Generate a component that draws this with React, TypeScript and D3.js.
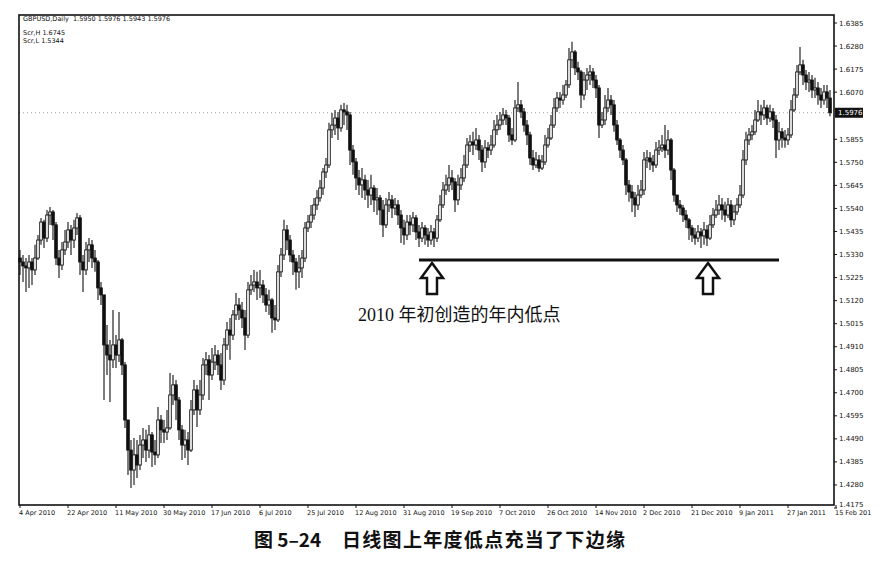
import * as d3 from "d3";

// GBPUSD daily, Apr 2010 – Feb 2011.
const firstOpen = 1.5314;

const closes = [
  1.5296, 1.5278, 1.5269, 1.5296, 1.5260, 1.5314, 1.5396, 1.5478, 1.5405, 1.5510,
  1.5524, 1.5465, 1.5314, 1.5282, 1.5351, 1.5387, 1.5442, 1.5396, 1.5451, 1.5497,
  1.5296, 1.5260, 1.5351, 1.5374, 1.5314, 1.5296, 1.5178, 1.5146, 1.4918, 1.4872,
  1.4850, 1.4918, 1.4872, 1.4941, 1.4827, 1.4576, 1.4439, 1.4348, 1.4417, 1.4371,
  1.4462, 1.4485, 1.4439, 1.4508, 1.4430, 1.4417, 1.4576, 1.4531, 1.4521, 1.4540,
  1.4690, 1.4736, 1.4667, 1.4531, 1.4462, 1.4485, 1.4439, 1.4622, 1.4713, 1.4622,
  1.4690, 1.4827, 1.4850, 1.4781, 1.4840, 1.4872, 1.4827, 1.4758, 1.4918, 1.4986,
  1.4963, 1.5055, 1.5100, 1.5077, 1.5041, 1.4963, 1.5169, 1.5191, 1.5205, 1.5178,
  1.5191, 1.5146, 1.5100, 1.5123, 1.5041, 1.5032, 1.5251, 1.5328, 1.5442, 1.5396,
  1.5328, 1.5296, 1.5251, 1.5269, 1.5314, 1.5451, 1.5478, 1.5510, 1.5556, 1.5588,
  1.5633, 1.5706, 1.5738, 1.5898, 1.5920, 1.5952, 1.5907, 1.5989, 1.5980, 1.5966,
  1.5806, 1.5752, 1.5679, 1.5647, 1.5670, 1.5624, 1.5601, 1.5633, 1.5579, 1.5588,
  1.5533, 1.5465, 1.5556, 1.5579, 1.5542, 1.5556, 1.5510, 1.5451, 1.5419, 1.5478,
  1.5465, 1.5497, 1.5433, 1.5405, 1.5451, 1.5419, 1.5396, 1.5433, 1.5405, 1.5488,
  1.5556, 1.5624, 1.5647, 1.5679, 1.5661, 1.5579, 1.5647, 1.5679, 1.5738, 1.5829,
  1.5843, 1.5829, 1.5852, 1.5806, 1.5752, 1.5816, 1.5806, 1.5829, 1.5898, 1.5920,
  1.5943, 1.5966, 1.5952, 1.5875, 1.5852, 1.5998, 1.6012, 1.5980, 1.5920, 1.5875,
  1.5770, 1.5738, 1.5761, 1.5724, 1.5752, 1.5829, 1.5861, 1.5920, 1.5998, 1.6043,
  1.6034, 1.6057, 1.6103, 1.6217, 1.6253, 1.6180, 1.6162, 1.6057, 1.6125, 1.6148,
  1.6162, 1.6125, 1.6089, 1.5920, 1.5943, 1.5998, 1.6034, 1.6012, 1.5920, 1.5852,
  1.5806, 1.5761, 1.5647, 1.5615, 1.5588, 1.5556, 1.5601, 1.5624, 1.5761, 1.5770,
  1.5752, 1.5738, 1.5806, 1.5816, 1.5829, 1.5806, 1.5852, 1.5715, 1.5601, 1.5556,
  1.5542, 1.5510, 1.5488, 1.5451, 1.5419, 1.5405, 1.5433, 1.5415, 1.5442, 1.5405,
  1.5465, 1.5510, 1.5533, 1.5556, 1.5533, 1.5510, 1.5556, 1.5488, 1.5524, 1.5556,
  1.5601, 1.5761, 1.5852, 1.5875, 1.5889, 1.5943, 1.5980, 1.5966, 1.5998, 1.5952,
  1.5980, 1.5943, 1.5852, 1.5889, 1.5861, 1.5852, 1.5875, 1.5989, 1.6057, 1.6162,
  1.6194, 1.6148, 1.6116, 1.6125, 1.6080, 1.6089, 1.6057, 1.6034, 1.6071, 1.6043,
  1.5976,
];

const highs = [
  1.5351, 1.5328, 1.5314, 1.5328, 1.5314, 1.5374, 1.5419, 1.5497, 1.5488, 1.5533,
  1.5547, 1.5533, 1.5478, 1.5351, 1.5387, 1.5442, 1.5478, 1.5465, 1.5488, 1.5519,
  1.5510, 1.5328, 1.5387, 1.5405, 1.5396, 1.5351, 1.5305, 1.5205, 1.5146, 1.5009,
  1.4941, 1.5077, 1.4963, 1.5068, 1.4950, 1.4840, 1.4576, 1.4485, 1.4494, 1.4485,
  1.4508, 1.4540, 1.4531, 1.4553, 1.4521, 1.4485, 1.4635, 1.4599, 1.4576, 1.4622,
  1.4790, 1.4781, 1.4758, 1.4681, 1.4553, 1.4531, 1.4521, 1.4667, 1.4758, 1.4736,
  1.4758, 1.4859, 1.4886, 1.4872, 1.4904, 1.4918, 1.4895, 1.4881, 1.4950, 1.5023,
  1.5041, 1.5077, 1.5155, 1.5132, 1.5114, 1.5077, 1.5205, 1.5237, 1.5260, 1.5251,
  1.5260, 1.5214, 1.5178, 1.5169, 1.5132, 1.5100, 1.5282, 1.5360, 1.5488, 1.5465,
  1.5419, 1.5351, 1.5314, 1.5328, 1.5351, 1.5478, 1.5510, 1.5556, 1.5588, 1.5624,
  1.5670, 1.5724, 1.5770, 1.5930, 1.5975, 1.5989, 1.5980, 1.6012, 1.6021, 1.6012,
  1.5980, 1.5829, 1.5770, 1.5715, 1.5724, 1.5693, 1.5670, 1.5693, 1.5647, 1.5633,
  1.5601, 1.5579, 1.5588, 1.5615, 1.5601, 1.5588, 1.5579, 1.5533, 1.5488, 1.5510,
  1.5510, 1.5524, 1.5510, 1.5465, 1.5478, 1.5465, 1.5451, 1.5465, 1.5451, 1.5510,
  1.5601, 1.5661, 1.5693, 1.5738, 1.5715, 1.5679, 1.5693, 1.5724, 1.5784, 1.5861,
  1.5875, 1.5889, 1.5907, 1.5875, 1.5829, 1.5852, 1.5843, 1.5875, 1.5943, 1.5966,
  1.5980, 1.5998, 1.5989, 1.5966, 1.5907, 1.6034, 1.6116, 1.6034, 1.5998, 1.5943,
  1.5889, 1.5806, 1.5797, 1.5784, 1.5784, 1.5875, 1.5907, 1.5966, 1.6043, 1.6071,
  1.6071, 1.6103, 1.6125, 1.6271, 1.6299, 1.6262, 1.6208, 1.6171, 1.6162, 1.6180,
  1.6194, 1.6180, 1.6148, 1.6103, 1.5980, 1.6057, 1.6089, 1.6057, 1.6034, 1.5943,
  1.5861, 1.5829, 1.5770, 1.5670, 1.5647, 1.5615, 1.5647, 1.5670, 1.5797, 1.5806,
  1.5797, 1.5784, 1.5843, 1.5852, 1.5875, 1.5920, 1.5898, 1.5861, 1.5724, 1.5601,
  1.5579, 1.5556, 1.5533, 1.5497, 1.5465, 1.5451, 1.5465, 1.5451, 1.5478, 1.5465,
  1.5510, 1.5542, 1.5579, 1.5601, 1.5588, 1.5570, 1.5588, 1.5579, 1.5556, 1.5588,
  1.5647, 1.5806, 1.5889, 1.5907, 1.5920, 1.5989, 1.6034, 1.6012, 1.6034, 1.6012,
  1.6012, 1.5998, 1.5966, 1.5934, 1.5907, 1.5898, 1.5907, 1.6034, 1.6089, 1.6194,
  1.6276, 1.6217, 1.6171, 1.6162, 1.6148, 1.6135, 1.6116, 1.6089, 1.6103, 1.6103,
  1.6080,
];

const lows = [
  1.5237, 1.5205, 1.5159, 1.5178, 1.5191, 1.5237, 1.5305, 1.5374, 1.5360, 1.5387,
  1.5465, 1.5396, 1.5282, 1.5223, 1.5260, 1.5328, 1.5360, 1.5328, 1.5360, 1.5419,
  1.5237, 1.5159, 1.5237, 1.5296, 1.5269, 1.5251, 1.5123, 1.5100, 1.4667, 1.4781,
  1.4658, 1.4813, 1.4813, 1.4840, 1.4781, 1.4540, 1.4325, 1.4266, 1.4280, 1.4312,
  1.4348, 1.4403, 1.4385, 1.4403, 1.4362, 1.4371, 1.4403, 1.4471, 1.4471, 1.4485,
  1.4531, 1.4644, 1.4576, 1.4485, 1.4394, 1.4403, 1.4371, 1.4430, 1.4599, 1.4544,
  1.4599, 1.4667, 1.4781, 1.4667, 1.4758, 1.4804, 1.4781, 1.4713, 1.4736, 1.4895,
  1.4850, 1.4941, 1.5032, 1.5032, 1.4995, 1.4895, 1.4950, 1.5146, 1.5159, 1.5123,
  1.5132, 1.5109, 1.5068, 1.5055, 1.4973, 1.4986, 1.5023, 1.5228, 1.5305, 1.5351,
  1.5296, 1.5237, 1.5169, 1.5178, 1.5223, 1.5296, 1.5433, 1.5451, 1.5488, 1.5533,
  1.5570, 1.5601, 1.5679, 1.5724, 1.5861, 1.5875, 1.5852, 1.5889, 1.5920, 1.5898,
  1.5738, 1.5693, 1.5624, 1.5601, 1.5588, 1.5579, 1.5542, 1.5556, 1.5524, 1.5510,
  1.5465, 1.5410, 1.5451, 1.5524, 1.5497, 1.5510, 1.5465, 1.5383, 1.5374, 1.5396,
  1.5419, 1.5433, 1.5396, 1.5364, 1.5387, 1.5374, 1.5364, 1.5374, 1.5364, 1.5387,
  1.5478, 1.5542, 1.5601, 1.5615, 1.5624, 1.5524, 1.5556, 1.5624, 1.5661, 1.5724,
  1.5797, 1.5784, 1.5806, 1.5761, 1.5706, 1.5724, 1.5770, 1.5784, 1.5816, 1.5875,
  1.5898, 1.5920, 1.5920, 1.5843, 1.5829, 1.5843, 1.5980, 1.5952, 1.5889, 1.5829,
  1.5738, 1.5715, 1.5724, 1.5706, 1.5715, 1.5738, 1.5816, 1.5852, 1.5907, 1.5980,
  1.5998, 1.6012, 1.6043, 1.6089, 1.6180, 1.6148, 1.6125, 1.5998, 1.6034, 1.6080,
  1.6103, 1.6089, 1.6043, 1.5861, 1.5907, 1.5920, 1.5980, 1.5966, 1.5889, 1.5829,
  1.5770, 1.5738, 1.5601, 1.5570, 1.5524, 1.5501, 1.5533, 1.5588, 1.5601, 1.5724,
  1.5715, 1.5706, 1.5724, 1.5784, 1.5797, 1.5770, 1.5784, 1.5670, 1.5570, 1.5524,
  1.5510, 1.5478, 1.5451, 1.5396, 1.5387, 1.5374, 1.5387, 1.5360, 1.5374, 1.5369,
  1.5396, 1.5451, 1.5497, 1.5510, 1.5488, 1.5478, 1.5497, 1.5456, 1.5465, 1.5510,
  1.5542, 1.5588, 1.5738, 1.5829, 1.5852, 1.5875, 1.5934, 1.5920, 1.5943, 1.5920,
  1.5934, 1.5907, 1.5770, 1.5806, 1.5816, 1.5816, 1.5829, 1.5861, 1.5980, 1.6043,
  1.6148, 1.6103, 1.6080, 1.6071, 1.6043, 1.6043, 1.6012, 1.5998, 1.6012, 1.5998,
  1.5960,
];

const priceTicks = [
  1.6385, 1.628, 1.6175, 1.607, 1.5855, 1.575, 1.5645, 1.554, 1.5435, 1.533,
  1.5225, 1.512, 1.5015, 1.491, 1.4805, 1.47, 1.4595, 1.449, 1.4385, 1.428, 1.4175,
];

const dateLabels = [
  "4 Apr 2010", "22 Apr 2010", "11 May 2010", "30 May 2010", "17 Jun 2010", "6 Jul 2010",
  "25 Jul 2010", "12 Aug 2010", "31 Aug 2010", "19 Sep 2010", "7 Oct 2010", "26 Oct 2010",
  "14 Nov 2010", "2 Dec 2010", "21 Dec 2010", "9 Jan 2011", "27 Jan 2011", "15 Feb 201",
];
const barsPerLabel = 16;

const lastPrice = 1.5976;
const supportLevel = 1.5305;
const supportFrom = 133;
const supportTo = 253;
const arrowBars = [137, 229];

const W = 889;
const H = 563;
const L = 19;
const R = 834;
const T = 15;
const B = 505;

const bars = closes.map((c, i) => {
  const o = i === 0 ? firstOpen : closes[i - 1];
  return {
    i,
    o,
    c,
    h: Math.max(highs[i], o, c),
    l: Math.min(lows[i], o, c),
  };
});

const x = d3.scaleLinear().domain([0, closes.length - 1]).range([20, 830]);
const y = d3.scaleLinear().domain([1.4175, 1.6385]).range([508, 23]);

const axisFont = "'DejaVu Sans', Verdana, sans-serif";

function arrowPath(cx: number, top: number): string {
  return d3.line()([
    [cx, top],
    [cx + 11, top + 15],
    [cx + 5, top + 15],
    [cx + 5, top + 31],
    [cx - 5, top + 31],
    [cx - 5, top + 15],
    [cx - 11, top + 15],
  ]) + "Z";
}

export default function App() {
  const bw = 2.6;
  return (
    <svg
      width={W}
      height={H}
      viewBox={`0 0 ${W} ${H}`}
      style={{ position: "absolute", left: 0, top: 0, background: "#fff" }}
    >
      <rect x={0} y={0} width={W} height={H} fill="#fff" />

      {/* bid line */}
      <line x1={L} x2={R} y1={y(lastPrice)} y2={y(lastPrice)} stroke="#888" strokeWidth={0.8} strokeDasharray="1,3" />

      {/* candles */}
      <g>
        {bars.map((d) => {
          const cx = x(d.i);
          const up = d.c >= d.o;
          const top = y(Math.max(d.o, d.c));
          const bot = y(Math.min(d.o, d.c));
          return (
            <g key={d.i}>
              <line x1={cx} x2={cx} y1={y(d.h)} y2={y(d.l)} stroke="#111" strokeWidth={1.1} />
              <rect
                x={cx - bw / 2}
                y={top}
                width={bw}
                height={Math.max(1, bot - top)}
                fill={up ? "#fff" : "#111"}
                stroke="#111"
                strokeWidth={0.9}
              />
            </g>
          );
        })}
      </g>

      {/* frame */}
      <rect x={L} y={T} width={R - L} height={B - T} fill="none" stroke="#111" strokeWidth={1.6} />

      {/* price axis */}
      {priceTicks.map((p, k) => (
        <g key={p}>
          <line x1={R} x2={R + 3} y1={y(p)} y2={y(p)} stroke="#111" strokeWidth={1} />
          <text
            x={R + 5}
            y={k === priceTicks.length - 1 ? y(p) - 1.5 : y(p) + 2.5}
            fontSize={7}
            fontFamily={axisFont}
            fill="#111"
          >
            {p.toFixed(4)}
          </text>
        </g>
      ))}
      <rect x={R + 1} y={y(lastPrice) - 5} width={28} height={10} fill="#111" />
      <text x={R + 4} y={y(lastPrice) + 2.5} fontSize={7} fontFamily={axisFont} fill="#fff">
        {lastPrice.toFixed(4)}
      </text>

      {/* time axis */}
      {dateLabels.map((lab, k) => {
        const px = x(k * barsPerLabel);
        return (
          <g key={lab}>
            <line x1={px} x2={px} y1={B} y2={B + 3} stroke="#111" strokeWidth={1} />
            <text x={px - 1} y={B + 10} fontSize={6.5} fontFamily={axisFont} fill="#111">
              {lab}
            </text>
          </g>
        );
      })}

      {/* header */}
      <text x={L + 4} y={T + 6} fontSize={6.5} fontFamily={axisFont} fill="#111">
        GBPUSD,Daily&#160;&#160;1.5950 1.5976 1.5943 1.5976
      </text>
      <text x={L + 4} y={T + 20} fontSize={6.5} fontFamily={axisFont} fill="#111">
        Scr,H 1.6745
      </text>
      <text x={L + 4} y={T + 28} fontSize={6.5} fontFamily={axisFont} fill="#111">
        Scr,L 1.5344
      </text>

      {/* support line and arrows */}
      <line
        x1={x(supportFrom)}
        x2={x(supportTo)}
        y1={y(supportLevel)}
        y2={y(supportLevel)}
        stroke="#111"
        strokeWidth={3}
      />
      {arrowBars.map((b) => (
        <path
          key={b}
          d={arrowPath(x(b) + 1, y(supportLevel) + 3)}
          fill="#fff"
          stroke="#111"
          strokeWidth={2.5}
          strokeLinejoin="miter"
        />
      ))}
      <text
        x={358}
        y={321}
        fontSize={18}
        fontFamily="'Liberation Serif', 'Noto Sans CJK SC', serif"
        fill="#111"
      >
        2010 年初创造的年内低点
      </text>

      {/* caption */}
      <text x={254} y={547} fontSize={19} fontWeight={700} fontFamily="'Noto Sans CJK SC', sans-serif" fill="#111">
        图 5–24
      </text>
      <text
        x={342}
        y={547}
        fontSize={19}
        fontWeight={700}
        textLength={283}
        lengthAdjust="spacing"
        fontFamily="'Noto Sans CJK SC', sans-serif"
        fill="#111"
      >
        日线图上年度低点充当了下边缘
      </text>
    </svg>
  );
}
